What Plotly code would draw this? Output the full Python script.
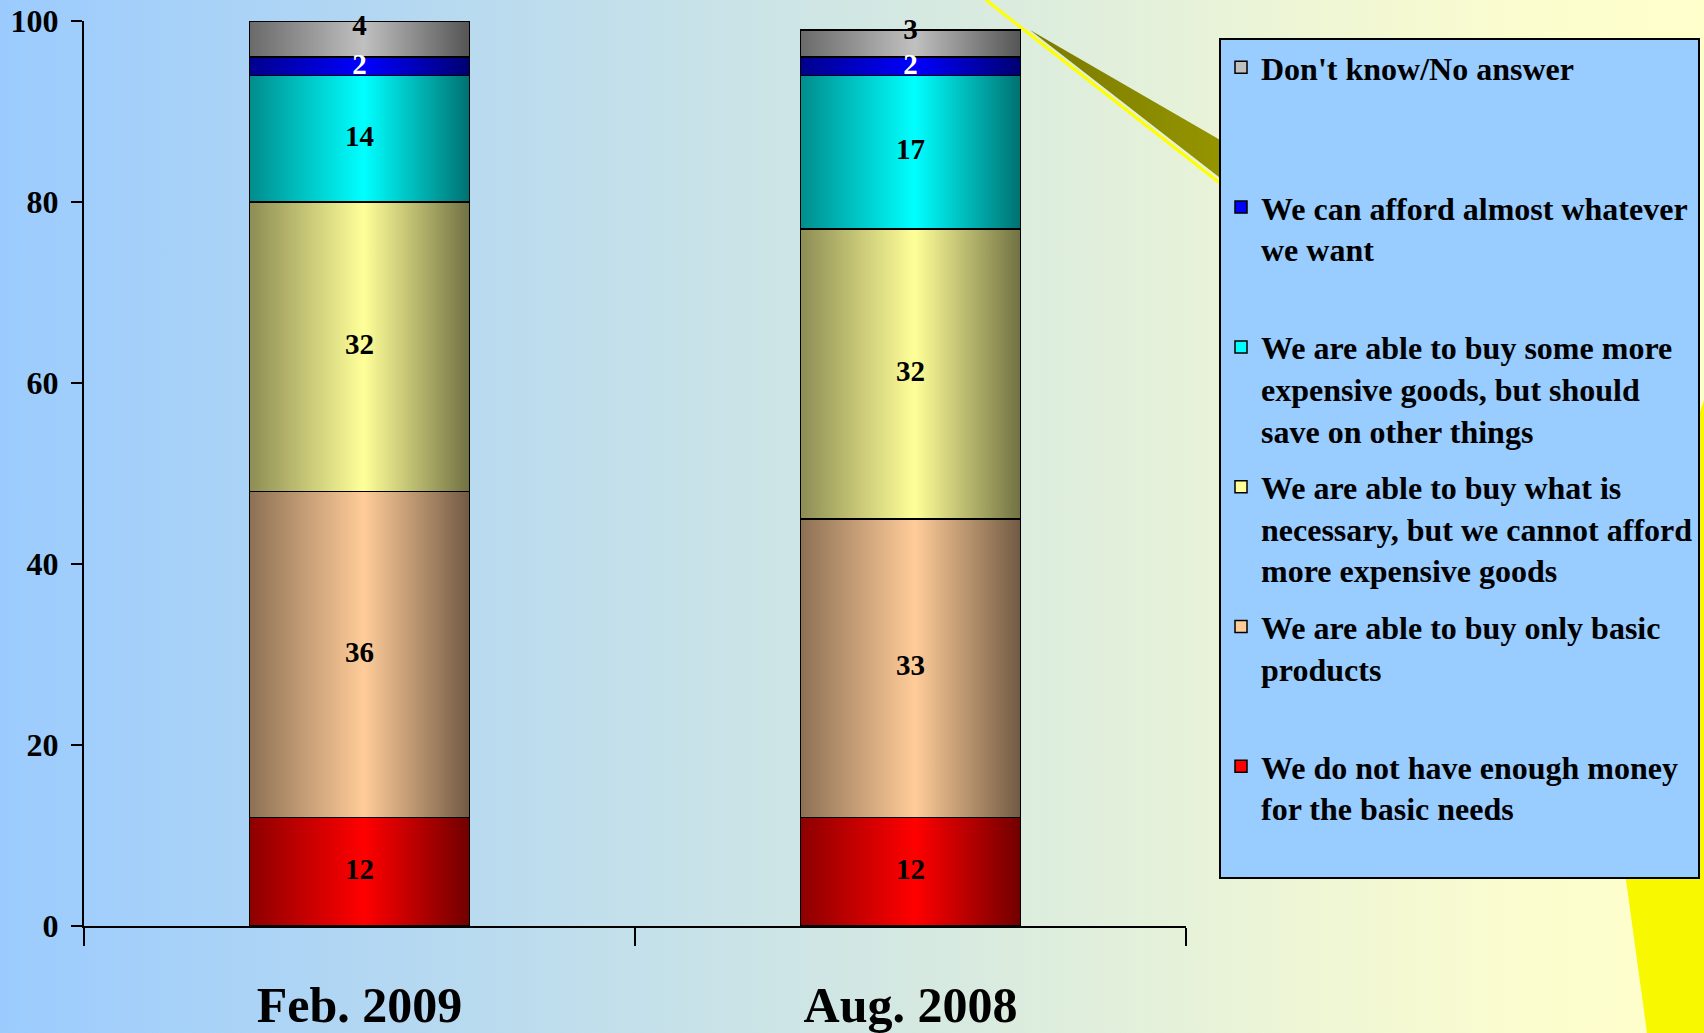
import base64
import plotly.graph_objects as go

# ---------------- data ----------------
categories = ["Feb. 2009", "Aug. 2008"]

series_names = [
    "We do not have enough money<br>for the basic needs",
    "We are able to buy only basic<br>products",
    "We are able to buy what is<br>necessary, but we cannot afford<br>more expensive goods",
    "We are able to buy some more<br>expensive goods, but should<br>save on other things",
    "We can afford almost whatever<br>we want",
    "Don't know/No answer",
]
no_money = [12, 12]
only_basic = [36, 33]
necessary = [32, 32]
some_more = [14, 17]
afford_all = [2, 2]
dont_know = [4, 3]

y_ticks = [0, 20, 40, 60, 80, 100]

series_values = [no_money, only_basic, necessary, some_more, afford_all, dont_know]
series_colors = ["#FF0000", "#FFCC99", "#FFFF99", "#00FFFF", "#0000FF", "#C0C0C0"]
label_colors = ["black", "black", "black", "black", "white", "black"]

# ---------------- figure ----------------
W, H = 1704, 1033
FONT = "Liberation Serif, Times New Roman, serif"
x_pos = list(range(len(categories)))
bar_w = 0.4
MAX_LINES = 3
TOP_LABEL_SHIFT = 1.3  # nudge of the topmost segment's labels (axis units)


def pad_name(name):
    n = name.count("<br>") + 1
    return name + "<br>\u00a0" * (MAX_LINES - n)


fig = go.Figure()
n_series = len(series_names)
for k, (name, vals, col) in enumerate(zip(series_names, series_values, series_colors)):
    fig.add_trace(go.Bar(
        x=x_pos, y=vals, width=bar_w,
        name=pad_name(name), legendgroup="g%d" % k, legendrank=n_series - k,
        marker=dict(color=col, line=dict(color="black", width=1.5)),
        hoverinfo="skip",
    ))

# horizontal cylinder shading over each stacked bar
totals = [sum(v[i] for v in series_values) for i in x_pos]
for i, t in zip(x_pos, totals):
    fig.add_trace(go.Scatter(
        x=[i - bar_w / 2, i + bar_w / 2, i + bar_w / 2, i - bar_w / 2, i - bar_w / 2],
        y=[0, 0, t, t, 0],
        mode="none", fill="toself",
        fillgradient=dict(type="horizontal",
                          colorscale=[[0, "rgba(0,0,0,0.45)"],
                                      [0.52, "rgba(0,0,0,0)"],
                                      [1, "rgba(0,0,0,0.56)"]]),
        showlegend=False, hoverinfo="skip",
    ))

# value labels at segment centres
base = [0] * len(x_pos)
for k, (vals, lc) in enumerate(zip(series_values, label_colors)):
    mids = [b + v / 2 for b, v in zip(base, vals)]
    if k == n_series - 1:
        mids = [m + TOP_LABEL_SHIFT for m in mids]
    fig.add_trace(go.Scatter(
        x=x_pos, y=mids, mode="text", text=[str(v) for v in vals],
        textposition="middle center",
        textfont=dict(family=FONT, size=29, color=lc, weight="bold"),
        showlegend=False, hoverinfo="skip", cliponaxis=False,
    ))
    base = [b + v for b, v in zip(base, vals)]

# slide-like background (gradient, decorative wedge, yellow arc)
svg = f'''<svg xmlns="http://www.w3.org/2000/svg" width="{W}" height="{H}" viewBox="0 0 {W} {H}" preserveAspectRatio="none">
<defs>
<linearGradient id="g" x1="0" y1="0" x2="1" y2="0">
<stop offset="0" stop-color="#9BCBFE"/>
<stop offset="0.9" stop-color="#FCFDCE"/>
<stop offset="1" stop-color="#FFFFCC"/>
</linearGradient>
<linearGradient id="o" x1="0" y1="0" x2="1" y2="0">
<stop offset="0" stop-color="#7A7A00"/>
<stop offset="1" stop-color="#9A9A00"/>
</linearGradient>
</defs>
<rect x="0" y="0" width="{W}" height="{H}" fill="url(#g)"/>
<path d="M1030,30 L1260,163 L1260,209 Z" fill="url(#o)"/>
<line x1="986" y1="0" x2="1262" y2="216" stroke="#FFFF00" stroke-width="3"/>
<path d="M1704,400 C1655,540 1618,760 1626,880 L1647,1033 L1704,1033 Z" fill="#F8F800"/>
</svg>'''
svg_uri = "data:image/svg+xml;base64," + base64.b64encode(svg.encode()).decode()

boundaries = [p - 0.5 for p in x_pos] + [x_pos[-1] + 0.5]

fig.update_layout(
    width=W, height=H,
    margin=dict(l=0, r=0, t=0, b=0, pad=0),
    barmode="stack",
    paper_bgcolor="#FFFFCC",
    plot_bgcolor="rgba(0,0,0,0)",
    images=[dict(source=svg_uri, xref="paper", yref="paper", x=0, y=1,
                 sizex=1, sizey=1, sizing="stretch", xanchor="left",
                 yanchor="top", layer="below")],
    xaxis=dict(
        domain=[84 / W, 1186 / W], range=[boundaries[0], boundaries[-1]],
        tickmode="array", tickvals=x_pos, ticktext=categories, ticks="",
        showline=True, linecolor="black", linewidth=2,
        tickfont=dict(family=FONT, size=50, color="black", weight="bold"),
        ticklabelstandoff=34, automargin=False,
        minor=dict(tickmode="array", tickvals=boundaries, ticks="outside",
                   ticklen=18, tickwidth=1.5, tickcolor="black", showgrid=False),
        showgrid=False, zeroline=False, fixedrange=True,
    ),
    yaxis=dict(
        domain=[(H - 926) / H, (H - 21) / H], range=[y_ticks[0], y_ticks[-1]],
        tickmode="array", tickvals=y_ticks, ticks="outside", ticklen=11,
        tickwidth=2, tickcolor="black",
        showline=True, linecolor="black", linewidth=2,
        tickfont=dict(family=FONT, size=32, color="black", weight="bold"),
        ticklabelstandoff=6, automargin=False,
        showgrid=False, zeroline=False, fixedrange=True,
    ),
    legend=dict(
        x=1219 / W, y=1 - 38 / H, xanchor="left", yanchor="top",
        bgcolor="#99CCFF", bordercolor="black", borderwidth=2,
        font=dict(family=FONT, size=32, color="black", weight="bold"),
        valign="top", traceorder="grouped", tracegroupgap=12,
        itemclick=False, itemdoubleclick=False,
    ),
)

fig.write_html(
    "out.html",
    config={"displayModeBar": False},
    post_script="document.body.style.margin='0';document.body.style.overflow='hidden';",
)
